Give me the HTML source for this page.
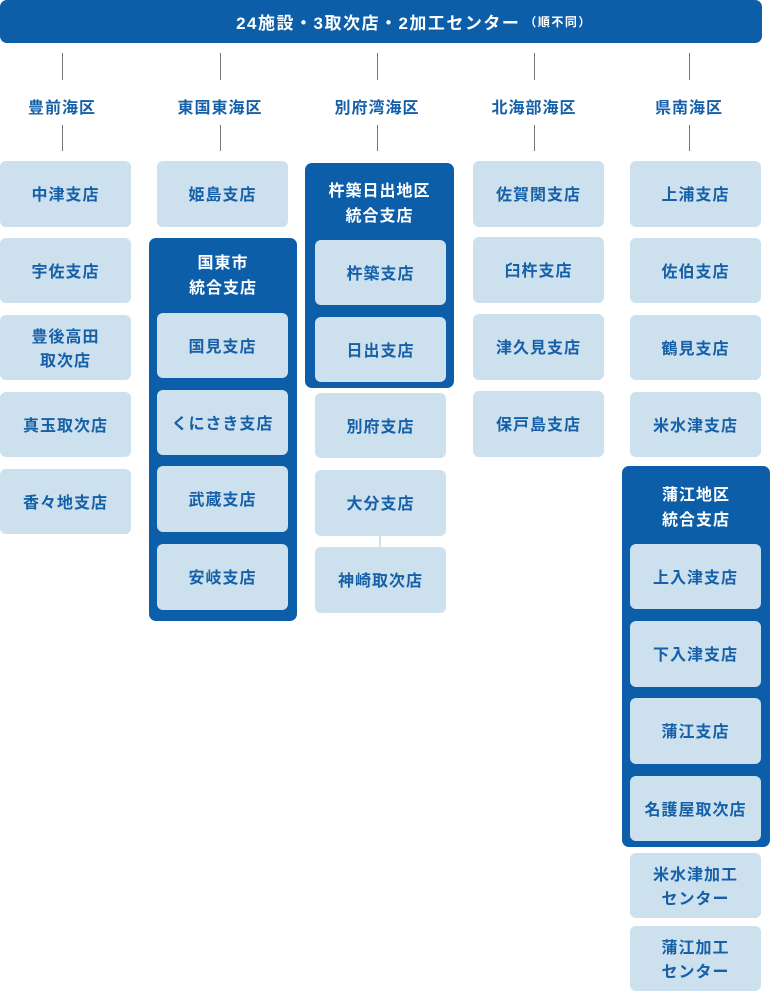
<!DOCTYPE html>
<html><head><meta charset="utf-8"><style>
body{margin:0;width:770px;height:992px;position:relative;background:#fff;font-family:"Liberation Sans","Noto Sans CJK JP",sans-serif;font-weight:bold;overflow:hidden}
.a{position:absolute;box-sizing:border-box;display:flex;align-items:center;justify-content:center;text-align:center}
.l{background:#cde0ee;color:#1560a8;border-radius:6px;font-size:16px;line-height:24px;letter-spacing:1px;padding-top:4px}
.d{background:#0c5ea8;border-radius:7px}
.t{position:absolute;color:#fff;font-size:16px;line-height:25px;text-align:center;letter-spacing:1px}
.v{position:absolute;width:1px;background:#777}
.h{position:absolute;color:#1560a8;font-size:16px;text-align:center;width:140px;letter-spacing:1px}
</style></head><body>
<div class="a d" style="left:0;top:0;width:762px;height:43px;color:#fff;font-size:17px;letter-spacing:1.5px;padding-left:66px">24施設・3取次店・2加工センター<span style="font-size:12px;margin-left:4px">（順不同）</span></div>

<div class="v" style="left:62px;top:53px;height:27px"></div><div class="v" style="left:62px;top:125px;height:26px"></div>
<div class="v" style="left:220px;top:53px;height:27px"></div><div class="v" style="left:220px;top:125px;height:26px"></div>
<div class="v" style="left:377px;top:53px;height:27px"></div><div class="v" style="left:377px;top:125px;height:26px"></div>
<div class="v" style="left:534px;top:53px;height:27px"></div><div class="v" style="left:534px;top:125px;height:26px"></div>
<div class="v" style="left:689px;top:53px;height:27px"></div><div class="v" style="left:689px;top:125px;height:26px"></div>

<div class="h" style="left:-8px;top:94px">豊前海区</div>
<div class="h" style="left:150px;top:94px">東国東海区</div>
<div class="h" style="left:307px;top:94px">別府湾海区</div>
<div class="h" style="left:464px;top:94px">北海部海区</div>
<div class="h" style="left:619px;top:94px">県南海区</div>

<div class="a l" style="left:0;top:161px;width:131px;height:66px">中津支店</div>
<div class="a l" style="left:0;top:238px;width:131px;height:65px">宇佐支店</div>
<div class="a l" style="left:0;top:315px;width:131px;height:65px">豊後高田<br>取次店</div>
<div class="a l" style="left:0;top:392px;width:131px;height:65px">真玉取次店</div>
<div class="a l" style="left:0;top:469px;width:131px;height:65px">香々地支店</div>

<div class="a l" style="left:157px;top:161px;width:131px;height:66px">姫島支店</div>
<div class="a d" style="left:149px;top:238px;width:148px;height:383px"></div>
<div class="t" style="left:149px;top:251px;width:148px">国東市<br>統合支店</div>
<div class="a l" style="left:157px;top:313px;width:131px;height:65px">国見支店</div>
<div class="a l" style="left:157px;top:390px;width:131px;height:65px">くにさき支店</div>
<div class="a l" style="left:157px;top:466px;width:131px;height:66px">武蔵支店</div>
<div class="a l" style="left:157px;top:544px;width:131px;height:66px">安岐支店</div>

<div class="a d" style="left:305px;top:163px;width:149px;height:225px"></div>
<div class="t" style="left:305px;top:179px;width:149px">杵築日出地区<br>統合支店</div>
<div class="a l" style="left:315px;top:240px;width:131px;height:65px">杵築支店</div>
<div class="a l" style="left:315px;top:317px;width:131px;height:65px">日出支店</div>
<div class="a l" style="left:315px;top:393px;width:131px;height:65px">別府支店</div>
<div class="a l" style="left:315px;top:470px;width:131px;height:66px">大分支店</div>
<div style="position:absolute;left:379px;top:536px;width:2px;height:11px;background:#cde0ee"></div>
<div class="a l" style="left:315px;top:547px;width:131px;height:66px">神崎取次店</div>

<div class="a l" style="left:473px;top:161px;width:131px;height:66px">佐賀関支店</div>
<div class="a l" style="left:473px;top:237px;width:131px;height:66px">臼杵支店</div>
<div class="a l" style="left:473px;top:314px;width:131px;height:66px">津久見支店</div>
<div class="a l" style="left:473px;top:391px;width:131px;height:66px">保戸島支店</div>

<div class="a l" style="left:630px;top:161px;width:131px;height:66px">上浦支店</div>
<div class="a l" style="left:630px;top:238px;width:131px;height:65px">佐伯支店</div>
<div class="a l" style="left:630px;top:315px;width:131px;height:65px">鶴見支店</div>
<div class="a l" style="left:630px;top:392px;width:131px;height:65px">米水津支店</div>
<div class="a d" style="left:622px;top:466px;width:148px;height:381px"></div>
<div class="t" style="left:622px;top:483px;width:148px">蒲江地区<br>統合支店</div>
<div class="a l" style="left:630px;top:544px;width:131px;height:65px">上入津支店</div>
<div class="a l" style="left:630px;top:621px;width:131px;height:66px">下入津支店</div>
<div class="a l" style="left:630px;top:698px;width:131px;height:66px">蒲江支店</div>
<div class="a l" style="left:630px;top:776px;width:131px;height:65px">名護屋取次店</div>
<div class="a l" style="left:630px;top:853px;width:131px;height:65px">米水津加工<br>センター</div>
<div class="a l" style="left:630px;top:926px;width:131px;height:65px">蒲江加工<br>センター</div>
</body></html>
